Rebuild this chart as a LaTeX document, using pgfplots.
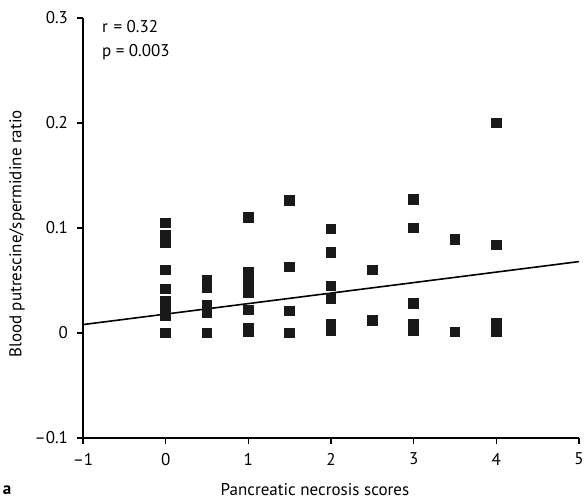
\documentclass[border=0pt]{standalone}
\usepackage{pgfplots}
\pgfplotsset{compat=1.18}
\usepackage{fontspec}
\setmainfont{PT Sans}
\begin{document}
\begin{tikzpicture}[font=\fontsize{8.5}{10}\selectfont]
\path[use as bounding box] (-41.5pt,-31.5pt) rectangle (250.5pt,219pt);
\begin{axis}[
  at={(0,0)}, anchor=south west,
  scale only axis, width=248pt, height=210pt,
  xmin=-1, xmax=5, ymin=-0.1, ymax=0.3,
  axis lines=left, axis line style={line width=0.9pt, -},
  xtick={-1,0,1,2,3,4,5}, ytick={-0.1,0,0.1,0.2,0.3},
  xticklabels={--1,0,1,2,3,4,5},
  yticklabels={--0.1,0,0.1,0.2,0.3},
  tick align=outside, major tick length=3pt,
  tick style={line width=0.8pt, black},
  xticklabel style={yshift=-1pt},
  yticklabel style={xshift=-1pt},
  clip=false,
]
\addplot[only marks, mark=square*, mark size=2.4pt, color=black!90,
  mark options={rounded corners=0.8pt}] coordinates {
(0,0.105) (0,0.093) (0,0.086) (0,0.060) (0,0.042) (0,0.030) (0,0.024) (0,0.017) (0,0.000)
(0.5,0.050) (0.5,0.043) (0.5,0.026) (0.5,0.019) (0.5,0.000)
(1,0.110) (1,0.058) (1,0.050) (1,0.044) (1,0.038) (1,0.022) (1,0.005) (1,0.001)
(1.5,0.126) (1.5,0.063) (1.5,0.021) (1.5,0.000)
(2,0.099) (2,0.077) (2,0.045) (2,0.033) (2,0.008) (2,0.002)
(2.5,0.060) (2.5,0.012)
(3,0.127) (3,0.100) (3,0.028) (3,0.008) (3,0.002)
(3.5,0.089) (3.5,0.001)
(4,0.200) (4,0.084) (4,0.009) (4,0.005) (4,0.001)
};
\addplot[black, line width=0.8pt] coordinates {(-1,0.008) (5,0.068)};
\end{axis}
\node[anchor=west] at (6pt,205.5pt) {r\,\,= 0.32};
\node[anchor=west] at (6pt,193pt) {p = 0.003};
\node at (116pt,-26pt) {Pancreatic necrosis scores};
\node[font=\fontsize{8.5}{10}\selectfont\bfseries] at (-38pt,-26pt) {a};
\node[rotate=90] at (-33pt,102pt) {Blood putrescine/spermidine ratio};
\end{tikzpicture}
\end{document}
